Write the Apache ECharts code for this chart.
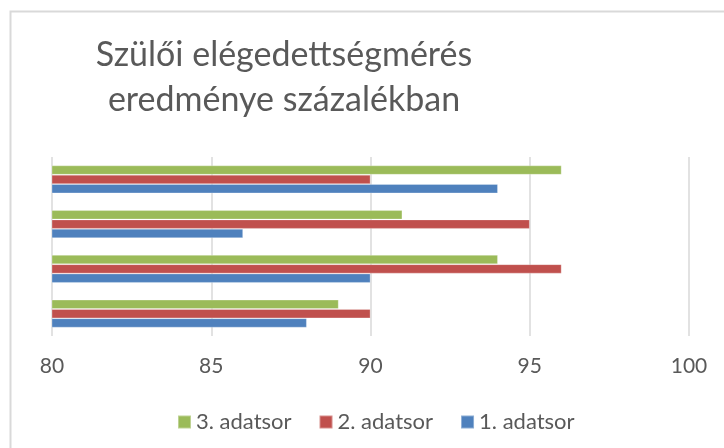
<!DOCTYPE html>
<html>
<head>
<meta charset="utf-8">
<script src="https://cdn.jsdelivr.net/npm/echarts@6/dist/echarts.min.js"></script>
<style>
html,body{margin:0;padding:0;background:#fff;}
#c{width:724px;height:448px;}
</style>
</head>
<body>
<div id="c"></div>
<script>
const titleText = 'Szülői elégedettségmérés\neredménye százalékban';
const categories = ['1', '2', '3', '4'];
const seriesNames = ['3. adatsor', '2. adatsor', '1. adatsor'];
const series3 = [89, 94, 91, 96];
const series2 = [90, 96, 95, 90];
const series1 = [88, 90, 86, 94];
const xTicks = [80, 85, 90, 95, 100];

const colors = ['#9BBB59', '#C0504D', '#4F81BD'];
const values = [series3, series2, series1];
const FONT = 'Lato';
const TXT = '#595959';

const chart = echarts.init(document.getElementById('c'), null, {renderer: 'canvas'});
chart.setOption({
  animation: false,
  backgroundColor: '#ffffff',
  graphic: [
    {type: 'rect', z: -10, shape: {x: 10.5, y: 11.5, width: 900, height: 600},
     style: {fill: 'none', stroke: '#d9d9d9', lineWidth: 2}},
    {type: 'text', x: 284, y: 78,
     style: {text: titleText, textAlign: 'center', textVerticalAlign: 'middle',
             font: '400 34px Lato', lineHeight: 45, fill: TXT}}
  ],
  legend: {
    data: seriesNames,
    left: 172, top: 406,
    itemWidth: 13, itemHeight: 13, itemGap: 27,
    icon: 'rect',
    textStyle: {fontFamily: FONT, fontSize: 22, color: TXT}
  },
  grid: {left: 52, right: 35, top: 157, bottom: 112, containLabel: false},
  xAxis: {
    type: 'value', min: xTicks[0], max: xTicks[xTicks.length - 1], interval: 5,
    axisLine: {show: false}, axisTick: {show: false},
    splitLine: {show: true, lineStyle: {color: '#d9d9d9', width: 1.5}},
    axisLabel: {fontFamily: FONT, fontSize: 21, color: TXT, margin: 20}
  },
  yAxis: {
    type: 'category', data: categories,
    axisLine: {show: false}, axisTick: {show: false}, axisLabel: {show: false},
    splitLine: {show: false}
  },
  series: seriesNames.map((n, i) => ({
    name: n, type: 'bar', data: values[i],
    barWidth: 9.3, barGap: '0%',
    itemStyle: {color: colors[i], borderColor: 'rgba(255,255,255,0.35)', borderWidth: 0.8}
  }))
});
</script>
</body>
</html>
